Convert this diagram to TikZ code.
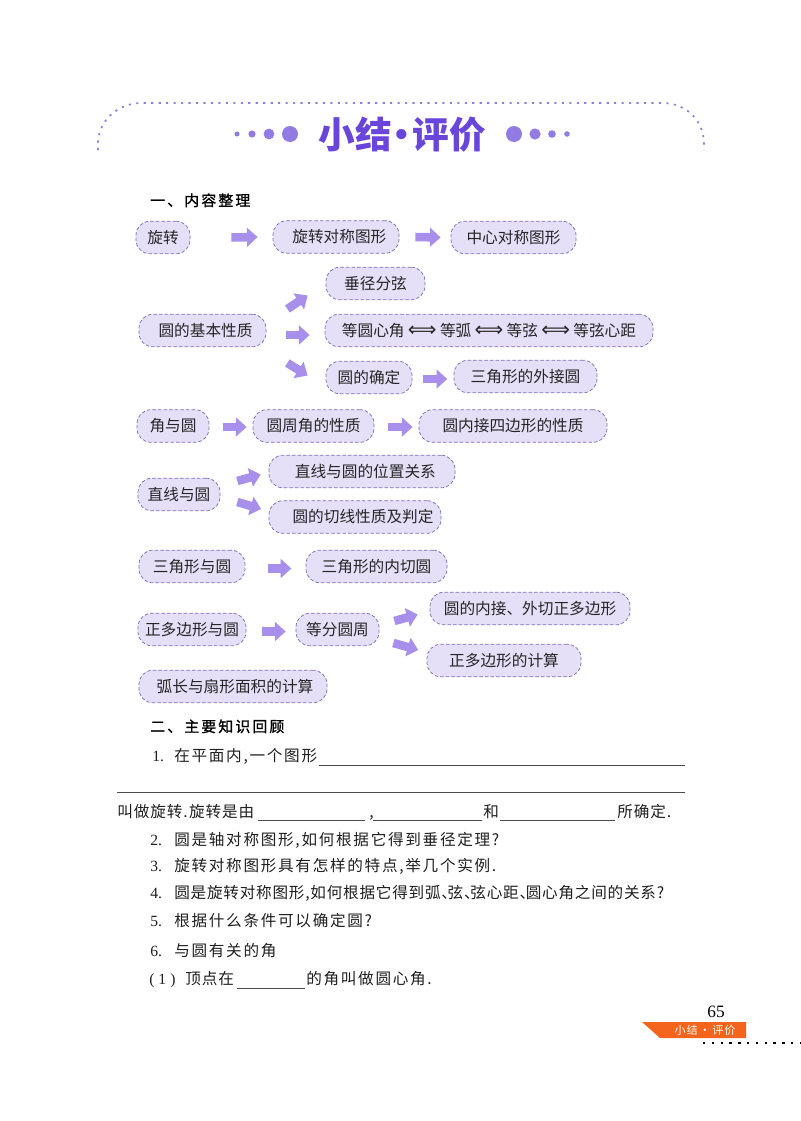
\documentclass[tikz,border=0pt]{standalone}
\usepackage{fontspec}
\setmainfont{Noto Sans CJK SC}
\newfontfamily\ser{Liberation Serif}
\newfontfamily\djfont{DejaVu Sans}
\newfontfamily\spaced[LetterSpace=8]{Noto Sans CJK SC}
\newfontfamily\headfont[LetterSpace=14,FakeBold=1.2]{Noto Sans CJK SC}
\newfontfamily\bodywide[LetterSpace=6]{Noto Sans CJK SC}
\newfontfamily\bodywider[LetterSpace=11]{Noto Sans CJK SC}
\newfontfamily\bodymid[LetterSpace=5]{Noto Sans CJK SC}
\usetikzlibrary{arrows.meta}
\definecolor{pillfill}{HTML}{E5DFF7}
\definecolor{pilledge}{HTML}{7F70B5}
\definecolor{fatcol}{HTML}{A88FEC}
\definecolor{titlecol}{HTML}{6A45DC}
\definecolor{dotcol}{HTML}{9A84E6}
\definecolor{framecol}{HTML}{8F7FD8}
\definecolor{tagcol}{HTML}{F4641C}
\tikzset{
  x=0.75pt,y=-0.75pt,
  pill/.style={draw=pilledge,fill=pillfill,line width=0.55pt,dash pattern=on 2.6pt off 1.6pt,
    rectangle,rounded corners=10.5pt,minimum width=#1*0.75pt,minimum height=24.5pt,inner sep=0pt,
    font=\fontsize{11.75pt}{14pt}\selectfont,text=black!85},
  fat/.style={line width=6.4pt,color=fatcol,-{Triangle[length=8pt,width=14pt]}},
  body/.style={anchor=base west,inner sep=0pt,font=\fontsize{11.7pt}{14pt}\bodywide,text=black!88},
  bodyw/.style={body,font=\fontsize{11.7pt}{14pt}\bodywider},
  head/.style={anchor=base west,inner sep=0pt,font=\fontsize{11.2pt}{13pt}\headfont,text=black},
  blank/.style={line width=0.6pt,color=black!70},
}
\newcommand{\lr}{\hspace{2.5pt}{\djfont\fontsize{15pt}{14pt}\selectfont ⟺}\hspace{2.5pt}}
\newcommand{\numlab}[1]{\makebox[18pt][l]{\ser #1}}
\begin{document}
\begin{tikzpicture}
\useasboundingbox (0,0) rectangle (800,1121);
\fill[white] (0,0) rectangle (800,1121);
% title frame
\draw[framecol,line width=1.3pt,dash pattern=on 1.6pt off 4pt]
  (98,150) -- (98,142) .. controls (99,120) and (118,103) .. (142,103) -- (662,103)
  .. controls (686,103) and (703,120) .. (704,142) -- (704,150);
\foreach \cx/\r in {237/2.5,252/3.6,269/5.4,290/8,514/8,535/5.6,552/3.8,567/2.8}
  \fill[dotcol!85!titlecol] (\cx,134) circle[radius=\r*0.75pt];
\node[inner sep=0pt,text=titlecol,font=\fontsize{27.5pt}{30pt}\selectfont\bfseries] (title) at (402,135) {小结\hspace{-6pt}·\hspace{-6pt}评价};
\node[head] (h1) at (150,206) {一、内容整理};
% row 1
\node[pill=54] (a1) at (163,237.5) {旋转};
\node[pill=126] (a2) at (336,237) {\hspace{5pt}旋转对称图形};
\node[pill=125] (a3) at (513.5,237.5) {中心对称图形};
% row 2
\node[pill=127] (b0) at (202.5,330.5) {\hspace{4.5pt}圆的基本性质};
\node[pill=99] (b1) at (375.5,283.5) {垂径分弦};
\node[pill=328] (b2) at (489,330.5) {等圆心角\lr 等弧\lr 等弦\lr 等弦心距};
\node[pill=86] (b3) at (369,377.5) {圆的确定};
\node[pill=143] (b4) at (525.5,376.5) {三角形的外接圆};
% row 3
\node[pill=72] (c1) at (173,426) {角与圆};
\node[pill=121] (c2) at (313.5,426) {圆周角的性质};
\node[pill=188] (c3) at (513,426) {圆内接四边形的性质};
% row 4
\node[pill=82] (d0) at (179,494.5) {直线与圆};
\node[pill=186] (d1) at (362,471.5) {\hspace{5pt}直线与圆的位置关系};
\node[pill=172] (d2) at (355,517) {\hspace{12pt}圆的切线性质及判定};
% row 5
\node[pill=106] (e1) at (192,566.5) {三角形与圆};
\node[pill=141] (e2) at (376.5,566.5) {三角形的内切圆};
% row 6
\node[pill=108] (f1) at (192,629.5) {正多边形与圆};
\node[pill=83] (f2) at (337.5,629.5) {等分圆周};
\node[pill=200] (f3) at (530,608.5) {圆的内接、外切正多边形};
\node[pill=154] (f4) at (504,660.5) {正多边形的计算};
% row 7
\node[pill=188] (g1) at (233,686.5) {\hspace{3pt}弧长与扇形面积的计算};
% arrows
\draw[fat] ([shift={(41,0)}]a1.east) -- ([shift={(-15,0)}]a2.west);
\draw[fat] ([shift={(16,0)}]a2.east) -- ([shift={(-10,0)}]a3.west);
\draw[fat] ([shift={(21,-21.5)}]b0.east) -- ([shift={(-18,12)}]b1.west);
\draw[fat] ([shift={(19.4,4.5)}]b0.east) -- ([shift={(-15,4.5)}]b2.west);
\draw[fat] ([shift={(21,32.5)}]b0.east) -- ([shift={(-18,-2)}]b3.west);
\draw[fat] ([shift={(10.6,1.5)}]b3.east) -- ([shift={(-6.4,2.5)}]b4.west);
\draw[fat] ([shift={(14,1)}]c1.east) -- ([shift={(-6,1)}]c2.west);
\draw[fat] ([shift={(14,1)}]c2.east) -- ([shift={(-6,1)}]c3.west);
\draw[fat] ([shift={(17,-13.5)}]d0.east) -- ([shift={(-8,3)}]d1.west);
\draw[fat] ([shift={(17,7.5)}]d0.east) -- ([shift={(-7.5,-8)}]d2.west);
\draw[fat] ([shift={(22.6,2)}]e1.east) -- ([shift={(-14.3,2)}]e2.west);
\draw[fat] ([shift={(16,2)}]f1.east) -- ([shift={(-10,2)}]f2.west);
\draw[fat] ([shift={(15,-8.5)}]f2.east) -- ([shift={(-12,6)}]f3.west);
\draw[fat] ([shift={(14,13.5)}]f2.east) -- ([shift={(-8.4,-10.5)}]f4.west);
% text
\node[head] (h2) at (150,732) {二、主要知识回顾};
\node[bodyw] (t1) at (152,761) {\makebox[16.5pt][l]{\ser 1.}在平面内,一个图形};
\draw[blank] (319,765) -- (685,765);
\draw[blank] (117,792) -- (685,792);
\node[body] (t2) at (117,817) {叫做旋转.\hspace{1pt}旋转是由};
\draw[blank] (258,820) -- (365,820);
\node[body] (t2b) at (369,817) {,};
\draw[blank] (373,820) -- (482,820);
\node[body] (t2c) at (483,817) {和};
\draw[blank] (500,820) -- (615,820);
\node[body] (t2d) at (617,817) {所确定.};
\node[bodyw] (t3) at (150,845) {\numlab{2.}圆是轴对称图形,如何根据它得到垂径定理?};
\node[bodyw] (t4) at (150,871) {\numlab{3.}旋转对称图形具有怎样的特点,举几个实例.};
\node[body,font=\fontsize{11.7pt}{14pt}\bodymid] (t5) at (150,898) {\numlab{4.}圆是旋转对称图形,如何根据它得到弧、\hspace{-7pt}弦、\hspace{-7pt}弦心距、\hspace{-7pt}圆心角之间的关系?};
\node[bodyw] (t6) at (150,926) {\numlab{5.}根据什么条件可以确定圆?};
\node[bodyw] (t7) at (150,956) {\numlab{6.}与圆有关的角};
\node[body] (t8) at (149,984) {\makebox[27pt][l]{\ser (\hspace{3pt}1\hspace{3pt})}顶点在};
\draw[blank] (237,988) -- (305,988);
\node[bodyw] (t8b) at (306,984) {的角叫做圆心角.};
% footer
\node[inner sep=0pt,font=\ser\fontsize{13pt}{14pt}\selectfont] (pg) at (716,1012) {65};
\fill[tagcol] (642,1022) -- (746,1022) -- (746,1038) -- (660,1038) -- cycle;
\node[inner sep=0pt,text=white,font=\fontsize{8.3pt}{10pt}\spaced] (tag) at (705,1030.5) {小结\,·\,评价};
\draw[black,line width=1.1pt,dash pattern=on 1.8pt off 4.8pt] (703,1043) -- (800,1043);
\end{tikzpicture}
\end{document}
